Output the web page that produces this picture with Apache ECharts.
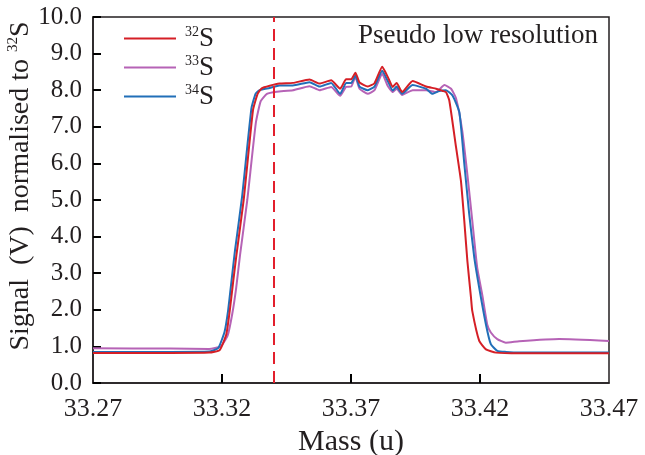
<!DOCTYPE html>
<html lang="en">
<head>
<meta charset="utf-8">
<script src="https://cdn.jsdelivr.net/npm/echarts@6/dist/echarts.min.js"></script>
<style>
    html,body{margin:0;padding:0;background:#fff;}
    #chart{width:645px;height:455px;}
</style>
</head>
<body>
<div id="chart"></div>
<script>
    // [mass (u), signal (V)]
    var s32 = [[33.27,0.82],[33.30,0.82],[33.315,0.83],[33.3191,0.9],[33.3217,1.34],[33.3230,1.97],[33.3243,2.75],[33.3256,3.5],[33.3284,5.0],[33.3320,7.45],[33.3338,7.9],[33.3354,8.05],[33.3385,8.12],[33.3423,8.18],[33.3475,8.2],[33.3539,8.29],[33.3578,8.18],[33.3623,8.27],[33.3658,8.04],[33.3681,8.3],[33.3701,8.3],[33.3717,8.48],[33.3733,8.21],[33.3765,8.1],[33.3791,8.19],[33.3821,8.64],[33.3842,8.37],[33.3862,8.09],[33.3877,8.2],[33.3898,7.95],[33.3939,8.25],[33.3991,8.1],[33.4030,8.04],[33.4055,7.98],[33.4068,7.95],[33.4081,7.72],[33.4107,6.45],[33.4126,5.53],[33.4139,4.44],[33.4151,3.34],[33.4165,2.34],[33.4170,1.97],[33.4197,1.15],[33.4223,0.92],[33.4262,0.83],[33.4352,0.81],[33.47,0.81]];
    var s33 = [[33.27,0.95],[33.30,0.94],[33.315,0.93],[33.3195,1.0],[33.3222,1.3],[33.3240,1.9],[33.3255,2.6],[33.3270,3.5],[33.3298,5.0],[33.3331,7.1],[33.3350,7.7],[33.3374,7.9],[33.3412,7.96],[33.3475,8.0],[33.3539,8.11],[33.3578,8.0],[33.3623,8.09],[33.3658,7.85],[33.3681,8.09],[33.3701,8.1],[33.3717,8.36],[33.3733,8.04],[33.3765,7.9],[33.3791,8.0],[33.3821,8.45],[33.3842,8.12],[33.3862,7.95],[33.3877,8.04],[33.3898,7.87],[33.3939,8.0],[33.3991,8.0],[33.4030,7.95],[33.4062,8.14],[33.4088,8.04],[33.4107,7.78],[33.4131,6.9],[33.4151,5.7],[33.4170,4.44],[33.4189,3.16],[33.4209,2.4],[33.4228,1.6],[33.4242,1.38],[33.4267,1.2],[33.4300,1.1],[33.4352,1.14],[33.4507,1.2],[33.47,1.15]];
    var s34 = [[33.27,0.85],[33.30,0.85],[33.315,0.86],[33.3185,0.95],[33.3210,1.4],[33.3224,2.0],[33.3237,2.8],[33.3250,3.6],[33.3278,5.1],[33.3314,7.5],[33.3330,7.9],[33.3346,8.0],[33.3385,8.06],[33.3423,8.13],[33.3475,8.13],[33.3539,8.22],[33.3578,8.1],[33.3623,8.2],[33.3658,7.9],[33.3681,8.2],[33.3701,8.2],[33.3717,8.4],[33.3733,8.1],[33.3765,8.0],[33.3791,8.1],[33.3821,8.53],[33.3842,8.26],[33.3862,7.99],[33.3877,8.1],[33.3898,7.9],[33.3939,8.14],[33.3991,8.04],[33.4016,7.9],[33.4042,7.98],[33.4068,8.0],[33.4094,7.85],[33.4120,7.4],[33.4139,6.0],[33.4158,4.63],[33.4178,3.42],[33.4197,2.6],[33.4223,1.6],[33.4242,1.06],[33.4267,0.88],[33.4300,0.85],[33.4352,0.83],[33.47,0.83]];
    var massTicks = [33.27, 33.32, 33.37, 33.42, 33.47];
    var innerTicks = [33.32, 33.37, 33.42];
    var cutMass = 33.3418;   // dashed marker

    var serif = 'Liberation Serif';
    var axisColor = '#231f20';
    var colors = {'32S': '#d51f26', '33S': '#b663b6', '34S': '#216fb8'};

    var myChart = echarts.init(document.getElementById('chart'));

    var mkLine = function(name, data, extra){
        var s = {
            name: name,
            type: 'line',
            data: data,
            showSymbol: false,
            smooth: 0.15,
            lineStyle: {width: 2, color: colors[name]},
            itemStyle: {color: colors[name]}
        };
        return Object.assign(s, extra || {});
    };

    var option = {
        animation: false,
        textStyle: {fontFamily: serif, color: axisColor},
        grid: {
            left: 93, right: 36, top: 17, bottom: 72,
            outerBoundsMode: 'none', containLabel: false,
            show: true, borderColor: axisColor, borderWidth: 1.5
        },
        legend: {
            data: ['32S', '33S', '34S'],
            orient: 'vertical',
            left: 119, top: 20,
            itemWidth: 52, itemHeight: 2, itemGap: 2,
            icon: 'rect',
            formatter: function(name){ return '{sup|' + name.slice(0, 2) + '}{big|S}'; },
            textStyle: {
                padding: [0, 0, 0, 4],
                rich: {
                    sup: {fontFamily: serif, fontSize: 14, lineHeight: 14, verticalAlign: 'top', color: axisColor},
                    big: {fontFamily: serif, fontSize: 27, lineHeight: 27, color: axisColor}
                }
            }
        },
        xAxis: {
            type: 'value',
            min: 33.27, max: 33.47,
            name: 'Mass (u)',
            nameLocation: 'middle',
            nameGap: 44,
            nameTextStyle: {fontFamily: serif, fontSize: 30, color: axisColor},
            axisLine: {show: true, lineStyle: {color: axisColor, width: 1.5}},
            axisTick: {show: true, inside: true, length: 9, customValues: innerTicks, lineStyle: {color: '#000', width: 2}},
            axisLabel: {
                customValues: massTicks, margin: 13, fontSize: 26, color: axisColor,
                formatter: function(v){ return v.toFixed(2); }
            },
            splitLine: {show: false}
        },
        yAxis: {
            type: 'value',
            min: 0, max: 10, interval: 1,
            axisLine: {show: true, lineStyle: {color: axisColor, width: 1.5}},
            axisTick: {show: true, inside: true, length: 8, lineStyle: {color: '#000', width: 2}},
            axisLabel: {
                margin: 11, fontSize: 25, color: axisColor,
                formatter: function(v){ return v.toFixed(1); }
            },
            splitLine: {show: false}
        },
        graphic: [
            {
                type: 'text', right: 47, top: 22,
                style: {text: 'Pseudo low resolution', fontFamily: serif, fontSize: 27, fill: axisColor}
            },
            {
                type: 'text', x: 21, y: 186, rotation: Math.PI / 2,
                style: {
                    text: 'Signal  (V)  normalised to {sup|32}{big|S}',
                    fontFamily: serif, fontSize: 28, fill: axisColor,
                    align: 'center', verticalAlign: 'middle',
                    textAlign: 'center', textVerticalAlign: 'middle',
                    rich: {
                        sup: {fontFamily: serif, fontSize: 15, lineHeight: 15, verticalAlign: 'top', fill: axisColor},
                        big: {fontFamily: serif, fontSize: 28, lineHeight: 30, fill: axisColor}
                    }
                }
            }
        ],
        series: [
            mkLine('33S', s33),
            mkLine('34S', s34),
            mkLine('32S', s32, {
                markLine: {
                    silent: true, symbol: 'none', label: {show: false},
                    lineStyle: {color: '#e31f2c', width: 2, type: [12, 7]},
                    data: [{xAxis: cutMass}]
                }
            })
        ]
    };
    myChart.setOption(option);
</script>
</body>
</html>
